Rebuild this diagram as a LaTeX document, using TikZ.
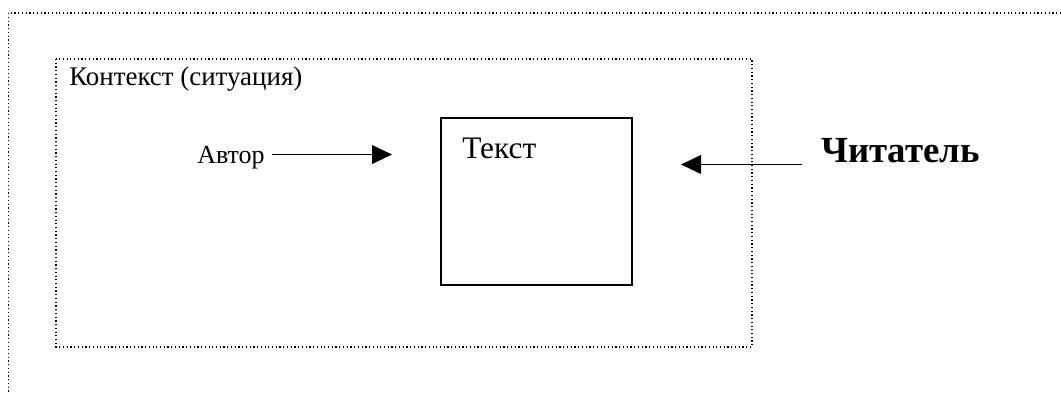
\documentclass[tikz,border=0pt]{standalone}
\usepackage{fontspec}
\setmainfont{Liberation Serif}
\usetikzlibrary{arrows.meta}
\begin{document}
\begin{tikzpicture}[x=0.75pt,y=-0.75pt,
  dotframe/.style={line width=0.9pt,dash pattern=on 0.9pt off 1.9pt},
  plain/.style={inner sep=0pt,anchor=base west,font=\fontsize{19.5pt}{22pt}\selectfont},
  textbox/.style={draw,line width=1.2pt},
  arr/.style={line width=1.35pt,-{Triangle[length=15pt,width=14pt]}}]
\path[use as bounding box] (0,0) rectangle (1061,394);
% outer frame (continues beyond the right and bottom edges)
\draw[dotframe] (1061,13) -- (8.5,13) -- (8.5,394);
% context frame
\draw[dotframe] (56,59) rectangle (752,347);
% text box
\draw[textbox] (441,118) rectangle (632,285);
\node[plain,font=\fontsize{20.2pt}{23pt}\selectfont] (ctx) at (69,85) {Контекст (ситуация)};
\node[plain] (avtor) at (197,163) {Автор};
\node[plain,font=\fontsize{23.5pt}{26pt}\selectfont] (tekst) at (462,158) {Текст};
\node[plain,font=\fontsize{27.6pt}{31pt}\selectfont\bfseries] (chit) at (821,162) {Читатель};
\coordinate (a1) at (272,154.5);
\coordinate (a2) at (392,154.5);
\coordinate (b1) at (802,164.5);
\coordinate (b2) at (681,164.5);
\draw[arr] (a1) -- (a2);
\draw[arr] (b1) -- (b2);
\end{tikzpicture}
\end{document}
